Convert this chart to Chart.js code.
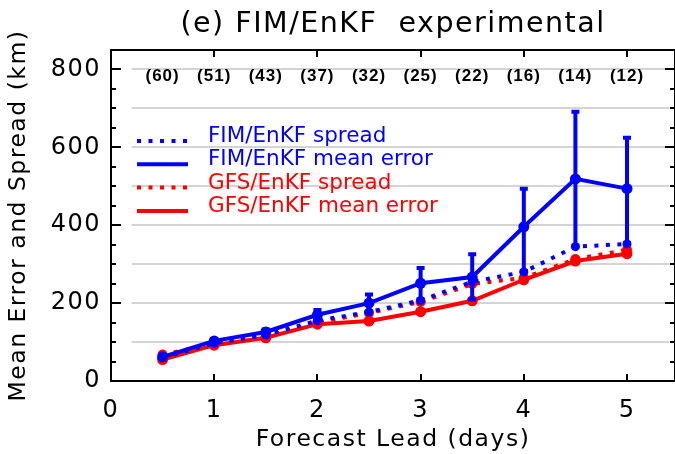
<!DOCTYPE html>
<html>
<head>
<meta charset="utf-8">
<script src="https://cdn.jsdelivr.net/npm/chart.js@4.4.1/dist/chart.umd.min.js"></script>
<style>
  html, body { margin: 0; padding: 0; background: #ffffff; }
  #wrap { width: 675px; height: 454px; }
</style>
</head>
<body>
<div id="wrap"><canvas id="c" width="675" height="454"></canvas></div>
<script>
// ---- data ----
const leadDays      = [0.5, 1, 1.5, 2, 2.5, 3, 3.5, 4, 4.5, 5];
const caseCounts    = ['(60)', '(51)', '(43)', '(37)', '(32)', '(25)', '(22)', '(16)', '(14)', '(12)'];
const fimSpread     = [60, 97, 118, 155, 177, 207, 255, 280, 345, 352];
const fimMeanError  = [62, 103, 126, 170, 200, 251, 267, 396, 519, 494];
const fimErrLow     = [57, 96, 117, 156, 176, 207, 207, 280, 345, 352];
const fimErrHigh    = [68, 110, 135, 185, 225, 293, 328, 496, 694, 627];
const gfsSpread     = [68, 95, 113, 150, 175, 203, 249, 265, 313, 337];
const gfsMeanError  = [55, 92, 111, 146, 154, 178, 206, 260, 308, 327];
const xTickVals     = [0, 1, 2, 3, 4, 5];
const yTickVals     = [0, 200, 400, 600, 800];
const yMinorVals    = [0, 50, 100, 150, 200, 250, 300, 350, 400, 450, 500, 550, 600, 650, 700, 750, 800, 850];
const gridVals      = [100, 200, 300, 400, 500, 600, 700, 800];
const legendLabels  = ['FIM/EnKF spread', 'FIM/EnKF mean error', 'GFS/EnKF spread', 'GFS/EnKF mean error'];

const BLUE = '#0000ff';
const RED = '#ff0000';
const pts = (arr) => arr.map((v, i) => ({ x: leadDays[i], y: v }));

const deco = {
  id: 'deco',
  beforeUpdate(chart) { chart.ctx.letterSpacing = '1.5px'; },
  beforeDraw(chart) { chart.ctx.letterSpacing = '1.5px'; },
  beforeDatasetsDraw(chart) {
    const { ctx, scales: { x, y } } = chart;
    ctx.save();
    ctx.strokeStyle = '#d4d4d4';
    ctx.lineWidth = 2;
    const x0 = x.getPixelForValue(0.2), x1 = x.getPixelForValue(5.41);
    gridVals.forEach(v => {
      const py = Math.round(y.getPixelForValue(v));
      ctx.beginPath(); ctx.moveTo(x0, py); ctx.lineTo(x1, py); ctx.stroke();
    });
    ctx.restore();
  },
  afterDatasetDraw(chart, args) {
    if (args.index !== 1) return;
    const { ctx, scales: { x, y } } = chart;
    ctx.save();
    ctx.strokeStyle = BLUE;
    ctx.lineWidth = 4;
    leadDays.forEach((d, i) => {
      const px = x.getPixelForValue(d);
      const lo = y.getPixelForValue(fimErrLow[i]);
      const hi = y.getPixelForValue(fimErrHigh[i]);
      ctx.beginPath();
      ctx.moveTo(px, lo); ctx.lineTo(px, hi);
      ctx.moveTo(px - 4, hi + 1); ctx.lineTo(px + 4, hi + 1);
      ctx.moveTo(px - 4, lo - 1); ctx.lineTo(px + 4, lo - 1);
      ctx.stroke();
    });
    ctx.restore();
  },
  afterDatasetsDraw(chart) {
    const { ctx, chartArea: a, scales: { x, y } } = chart;
    ctx.save();
    // frame
    ctx.strokeStyle = '#000';
    ctx.lineWidth = 2;
    ctx.strokeRect(a.left, a.top, a.right - a.left, a.bottom - a.top);
    // y ticks (inward, both sides)
    yMinorVals.forEach(v => {
      const py = Math.round(y.getPixelForValue(v));
      const len = yTickVals.includes(v) ? 10 : 5;
      ctx.beginPath();
      ctx.moveTo(a.left, py); ctx.lineTo(a.left + len, py);
      ctx.moveTo(a.right, py); ctx.lineTo(a.right - len, py);
      ctx.stroke();
    });
    // x ticks (inward, top and bottom)
    xTickVals.forEach(v => {
      const px = Math.round(x.getPixelForValue(v));
      ctx.beginPath();
      ctx.moveTo(px, a.bottom); ctx.lineTo(px, a.bottom - 7);
      ctx.moveTo(px, a.top); ctx.lineTo(px, a.top + 7);
      ctx.stroke();
    });
    // sample counts along the top
    ctx.letterSpacing = '1px';
    ctx.fillStyle = '#000';
    ctx.font = 'bold 17px "Liberation Sans", Arial, sans-serif';
    ctx.textAlign = 'center';
    ctx.textBaseline = 'middle';
    caseCounts.forEach((t, i) => {
      ctx.fillText(t, x.getPixelForValue(leadDays[i]), a.top + 26);
    });
    // legend inside plot
    ctx.letterSpacing = '0px';
    ctx.font = '21.5px "DejaVu Sans", sans-serif';
    ctx.textAlign = 'left';
    ctx.textBaseline = 'alphabetic';
    const colors = [BLUE, BLUE, RED, RED];
    const dashed = [true, false, true, false];
    const lx0 = a.left + 26, lx1 = a.left + 77, tx = a.left + 97;
    legendLabels.forEach((t, i) => {
      const base = a.top + 92 + i * 23.3;
      ctx.strokeStyle = colors[i];
      ctx.lineWidth = 4;
      ctx.setLineDash(dashed[i] ? [4, 7.5] : []);
      ctx.beginPath(); ctx.moveTo(lx0, base - 1); ctx.lineTo(lx1, base - 1); ctx.stroke();
      ctx.setLineDash([]);
      ctx.fillStyle = colors[i];
      ctx.fillText(t, tx, base);
    });
    ctx.restore();
  }
};

const common = { tension: 0, borderWidth: 4, pointBorderWidth: 0, fill: false, borderCapStyle: 'butt' };

new Chart(document.getElementById('c'), {
  type: 'line',
  data: {
    datasets: [
      Object.assign({ label: legendLabels[0], data: pts(fimSpread), borderColor: BLUE, backgroundColor: BLUE,
        borderDash: [4, 7.5], pointRadius: 4.5 }, common),
      Object.assign({ label: legendLabels[1], data: pts(fimMeanError), borderColor: BLUE, backgroundColor: BLUE,
        pointRadius: 5.5 }, common),
      Object.assign({ label: legendLabels[2], data: pts(gfsSpread), borderColor: RED, backgroundColor: RED,
        borderDash: [4, 7.5], pointRadius: 5 }, common),
      Object.assign({ label: legendLabels[3], data: pts(gfsMeanError), borderColor: RED, backgroundColor: RED,
        pointRadius: 5.5 }, common)
    ]
  },
  options: {
    responsive: false,
    animation: false,
    events: [],
    layout: { padding: 0, autoPadding: false },
    plugins: {
      legend: { display: false },
      tooltip: { enabled: false },
      title: {
        display: true,
        text: '(e) FIM/EnKF  experimental',
        fullSize: false,
        color: '#000',
        font: { family: '"DejaVu Sans", sans-serif', size: 28.5, weight: 'normal', lineHeight: 1.2 },
        padding: { top: 7, bottom: 8.8 }
      }
    },
    scales: {
      x: {
        type: 'linear',
        min: 0,
        max: 5.465,
        afterBuildTicks: (s) => { s.ticks = xTickVals.map(v => ({ value: v })); },
        afterFit: (s) => { s.height = 73; s.paddingLeft = 0; s.paddingRight = 0; },
        grid: { display: false, drawTicks: false },
        border: { display: false },
        ticks: { color: '#000', padding: 15, maxRotation: 0,
          font: { family: '"DejaVu Sans", sans-serif', size: 24 } },
        title: { display: true, text: 'Forecast Lead (days)', color: '#000',
          font: { family: '"DejaVu Sans", sans-serif', size: 23.5, lineHeight: 1.2 },
          padding: { top: 0, bottom: 0 } }
      },
      y: {
        type: 'linear',
        min: 0,
        max: 850,
        afterBuildTicks: (s) => { s.ticks = yTickVals.map(v => ({ value: v })); },
        afterFit: (s) => { s.width = 111; s.paddingTop = 0; s.paddingBottom = 0; },
        grid: { display: false, drawTicks: false },
        border: { display: false },
        ticks: { color: '#000', padding: 10,
          font: { family: '"DejaVu Sans", sans-serif', size: 24 } },
        title: { display: true, text: 'Mean Error and Spread (km)', color: '#000',
          font: { family: '"DejaVu Sans", sans-serif', size: 23.5, lineHeight: 1.2 },
          padding: { top: 5, bottom: 0 } }
      }
    }
  },
  plugins: [deco]
});
</script>
</body>
</html>
